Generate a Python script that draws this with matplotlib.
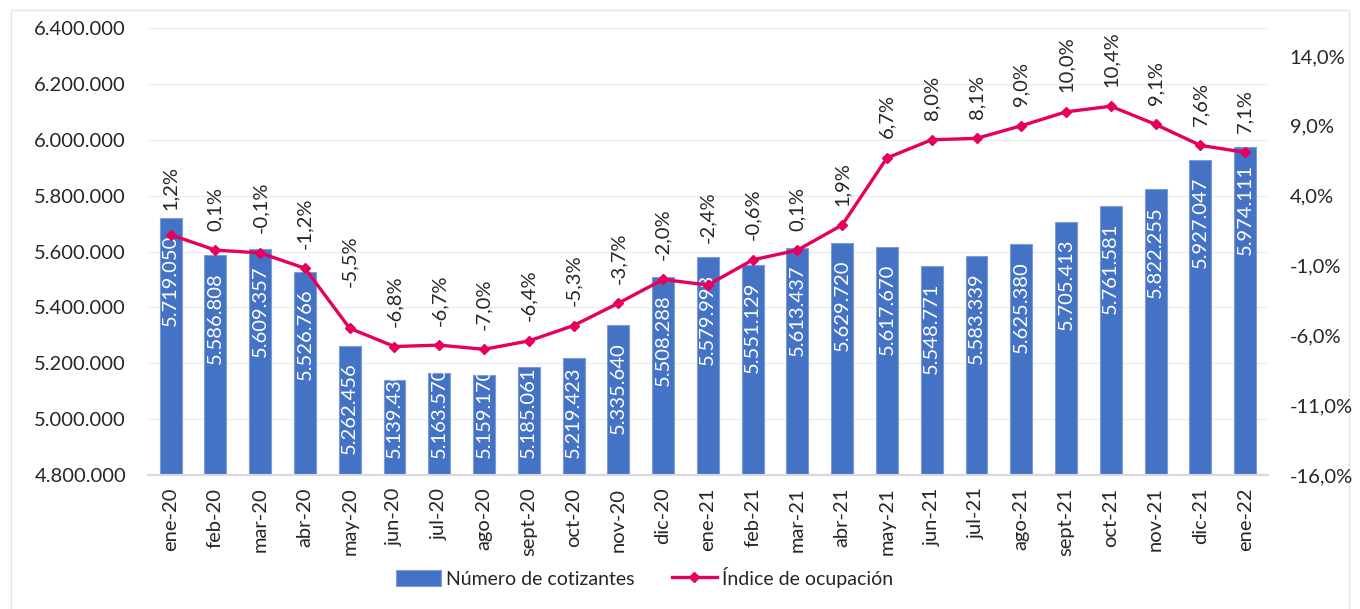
import matplotlib.pyplot as plt
from matplotlib.patches import Rectangle

plt.rcParams['font.family'] = ['Lato', 'DejaVu Sans']

months = ["ene-20", "feb-20", "mar-20", "abr-20", "may-20", "jun-20", "jul-20",
          "ago-20", "sept-20", "oct-20", "nov-20", "dic-20", "ene-21", "feb-21",
          "mar-21", "abr-21", "may-21", "jun-21", "jul-21", "ago-21", "sept-21",
          "oct-21", "nov-21", "dic-21", "ene-22"]
cotizantes = [5719050, 5586808, 5609357, 5526766, 5262456, 5139430, 5163570,
              5159170, 5185061, 5219423, 5335640, 5508288, 5579993, 5551129,
              5613437, 5629720, 5617670, 5548771, 5583339, 5625380, 5705413,
              5761581, 5822255, 5927047, 5974111]
ocupacion = [1.2, 0.1, -0.1, -1.2, -5.5, -6.8, -6.7, -7.0, -6.4, -5.3, -3.7, -2.0,
             -2.4, -0.6, 0.1, 1.9, 6.7, 8.0, 8.1, 9.0, 10.0, 10.4, 9.1, 7.6, 7.1]

# a few percentage labels were nudged higher in the original
extra_off = {0: 4, 4: 16, 12: 16}

blue = '#4472C4'
pink = '#E6005C'
txt = '#262626'
fs = 14.5

def miles(v):
    return f"{v:,.0f}".replace(",", ".")

def pct(v):
    return f"{v:.1f}%".replace(".", ",")

fig = plt.figure(figsize=(13.6, 6.09), dpi=100)
ax = fig.add_axes([0.109, 0.22, 0.823, 0.734])
ax2 = ax.twinx()

x = list(range(len(months)))
bars = ax.bar(x, cotizantes, width=0.49, color=blue, edgecolor='#7E9DD6', linewidth=0.8,
              zorder=2, label="Número de cotizantes")
ax.set_ylim(4800000, 6400000)
ax.set_yticks(range(4800000, 6400001, 200000))
ax.set_yticklabels([miles(v) for v in range(4800000, 6400001, 200000)])
ax.set_xlim(-0.5, len(months) - 0.5)
ax.set_xticks(x)
ax.set_xticklabels(months, rotation=90)
ax.grid(axis='y', color='#EDEDED', linewidth=1, zorder=0)
ax.set_axisbelow(True)

for b, v in zip(bars, cotizantes):
    cx = b.get_x() + b.get_width() / 2
    if v - 4800000 > 450000:
        t = ax.annotate(miles(v), (cx, v), xytext=(0, -12), textcoords='offset points',
                        rotation=90, ha='center', va='top', color='white', fontsize=fs, zorder=3)
    else:
        t = ax.annotate(miles(v), (cx, 4800000), xytext=(0, 12), textcoords='offset points',
                        rotation=90, ha='center', va='bottom', color='white', fontsize=fs, zorder=3)
        t.set_clip_path(b)

ax2.plot(x, ocupacion, color=pink, linewidth=2.4, marker='D', markersize=5.5,
         zorder=4, label="Índice de ocupación")
ax2.set_ylim(-16, 16)
ax2.set_yticks(range(-16, 15, 5))
ax2.set_yticklabels([pct(v) for v in range(-16, 15, 5)])
for i, v in enumerate(ocupacion):
    ax2.annotate(pct(v), (i, v), xytext=(0, 14 + extra_off.get(i, 0)), textcoords='offset points',
                 rotation=90, ha='center', va='bottom', fontsize=fs, color=txt)

for a in (ax, ax2):
    for s in ('left', 'right'):
        a.spines[s].set_visible(False)
    a.spines['top'].set_color('#F0F0F0')
    a.spines['bottom'].set_color('#D9D9D9')
    a.spines['bottom'].set_linewidth(1.5)
    a.tick_params(length=0, labelsize=fs, colors=txt)
ax.tick_params(axis='y', pad=16)
ax2.tick_params(axis='y', pad=16)
ax.tick_params(axis='x', pad=9)
ax2.set_zorder(ax.get_zorder() + 1)
ax2.patch.set_visible(False)

h1, l1 = ax.get_legend_handles_labels()
h2, l2 = ax2.get_legend_handles_labels()
fig.legend(h1 + h2, l1 + l2, loc='center', bbox_to_anchor=(0.474, 0.052), ncol=2,
           frameon=False, fontsize=14, handlelength=2.3, handleheight=0.9, columnspacing=1.9,
           handletextpad=0.3, labelcolor=txt)

fig.add_artist(Rectangle((0.008, -0.01), 0.984, 0.994, transform=fig.transFigure,
                         fill=False, edgecolor='#E5E5E5', linewidth=1))

fig.savefig("out.png", dpi=100)
